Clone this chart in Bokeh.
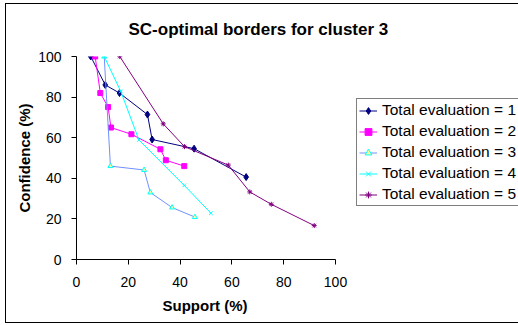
from bokeh.plotting import figure
from bokeh.models import Legend, LegendItem, FixedTicker, Range1d, InlineStyleSheet, Title
from bokeh.embed import file_html
from bokeh.resources import INLINE

# Data (Support %, Confidence %)
s1_x = [5.5, 11.1, 16.6, 27.4, 29.2, 45.4, 65.5]
s1_y = [100, 86.0, 82.0, 71.4, 59.1, 54.6, 40.6]
s2_x = [7.2, 9.2, 12.2, 13.3, 21.2, 32.4, 34.5, 41.6]
s2_y = [100, 82.0, 75.1, 65.0, 61.7, 54.3, 48.9, 46.0]
s3_x = [10.7, 13.1, 26.1, 28.5, 36.9, 45.7]
s3_y = [100, 46.0, 44.1, 33.0, 25.6, 20.9]
s4_x = [10.7, 17.1, 24.1, 41.6, 51.9]
s4_y = [100, 82.8, 58.9, 36.5, 22.8]
s5_x = [16.7, 33.5, 41.7, 58.6, 66.9, 75.2, 91.8]
s5_y = [100, 66.8, 55.6, 46.5, 33.3, 27.2, 16.7]
labels = ["Total evaluation = 1", "Total evaluation = 2", "Total evaluation = 3",
          "Total evaluation = 4", "Total evaluation = 5"]
x_ticks = [0, 20, 40, 60, 80, 100]
y_ticks = [0, 20, 40, 60, 80, 100]

FONT = "Liberation Sans"

# plot frame extends to the right edge so the legend (drawn inside the frame) is not clipped;
# the x axis itself is bounded to 0..100 which maps to pixels 76..335
X_END = 100 * 442 / 259

p = figure(width=518, height=325, output_backend="svg", toolbar_location=None,
           x_range=Range1d(0, X_END), y_range=Range1d(0, 100))
p.min_border_left = 76
p.min_border_right = 0
p.min_border_top = 56
p.min_border_bottom = 66
p.outline_line_color = None
p.xgrid.grid_line_color = None
p.ygrid.grid_line_color = None
p.background_fill_color = "white"
p.border_fill_color = "white"

p.title.text = "SC-optimal borders for cluster 3"
p.title.text_font = FONT
p.title.text_font_size = "17px"
p.title.text_font_style = "bold"
p.title.text_color = "black"
p.title.align = "left"
p.title.offset = 52
p.title.standoff = 35

for ax, ticks in ((p.xaxis, x_ticks), (p.yaxis, y_ticks)):
    ax.ticker = FixedTicker(ticks=ticks)
    ax.minor_tick_line_color = None
    ax.major_tick_in = 0
    ax.major_tick_out = 5
    ax.axis_line_color = "black"
    ax.major_tick_line_color = "black"
    ax.major_label_text_font = FONT
    ax.major_label_text_font_size = "14px"
    ax.major_label_text_color = "black"
    ax.axis_label_text_font = FONT
    ax.axis_label_text_font_size = "15px"
    ax.axis_label_text_font_style = "bold"
    ax.axis_label_text_color = "black"

p.xaxis.bounds = (0, 100)
p.yaxis.axis_label = "Confidence (%)"
p.xaxis.major_label_standoff = 12
p.yaxis.major_label_standoff = 10
p.yaxis.axis_label_standoff = 2

xlab = Title(text="Support (%)", align="left", offset=86, standoff=10,
             text_font=FONT, text_font_size="15px", text_font_style="bold", text_color="black")
p.add_layout(xlab, "below")

series = [
    (s1_x, s1_y, "#000080", "diamond", 7, "#000080", "#000080"),
    (s2_x, s2_y, "#FF00FF", "square", 5, "#FF00FF", "#FF00FF"),
    (s3_x, s3_y, "#7090FF", "triangle", 5, "#00FFFF", "#FFFF99"),
    (s4_x, s4_y, "#00FFFF", "x", 5, "#00FFFF", "#00FFFF"),
    (s5_x, s5_y, "#800080", "asterisk", 5, "#800080", "#800080"),
]

items = []
for (xs, ys, lc, mk, sz, mlc, mfc), lab in zip(series, labels):
    r1 = p.line(xs, ys, line_color=lc, line_width=1)
    r2 = p.scatter(xs, ys, marker=mk, size=sz, line_color=mlc, fill_color=mfc, line_width=1)
    items.append(LegendItem(label=lab, renderers=[r1, r2]))

legend = Legend(items=items, location=(280, 53))
legend.label_text_font = FONT
legend.label_text_font_size = "15.5px"
legend.label_text_color = "black"
legend.glyph_width = 18
legend.glyph_height = 17
legend.label_height = 17
legend.label_width = 150
legend.spacing = 3
legend.padding = 2
legend.margin = 0
legend.label_standoff = 5
legend.border_line_color = "black"
legend.border_line_width = 1
legend.background_fill_color = "white"
legend.background_fill_alpha = 1
p.add_layout(legend, "center")

p.stylesheets = [InlineStyleSheet(css=":host { position: relative; } :host::after { content: ''; position: absolute; left: 5px; top: 3px; width: 530px; height: 320px; border: 1px solid black; box-sizing: border-box; pointer-events: none; }")]

open("out.html", "w").write(file_html(p, INLINE))
